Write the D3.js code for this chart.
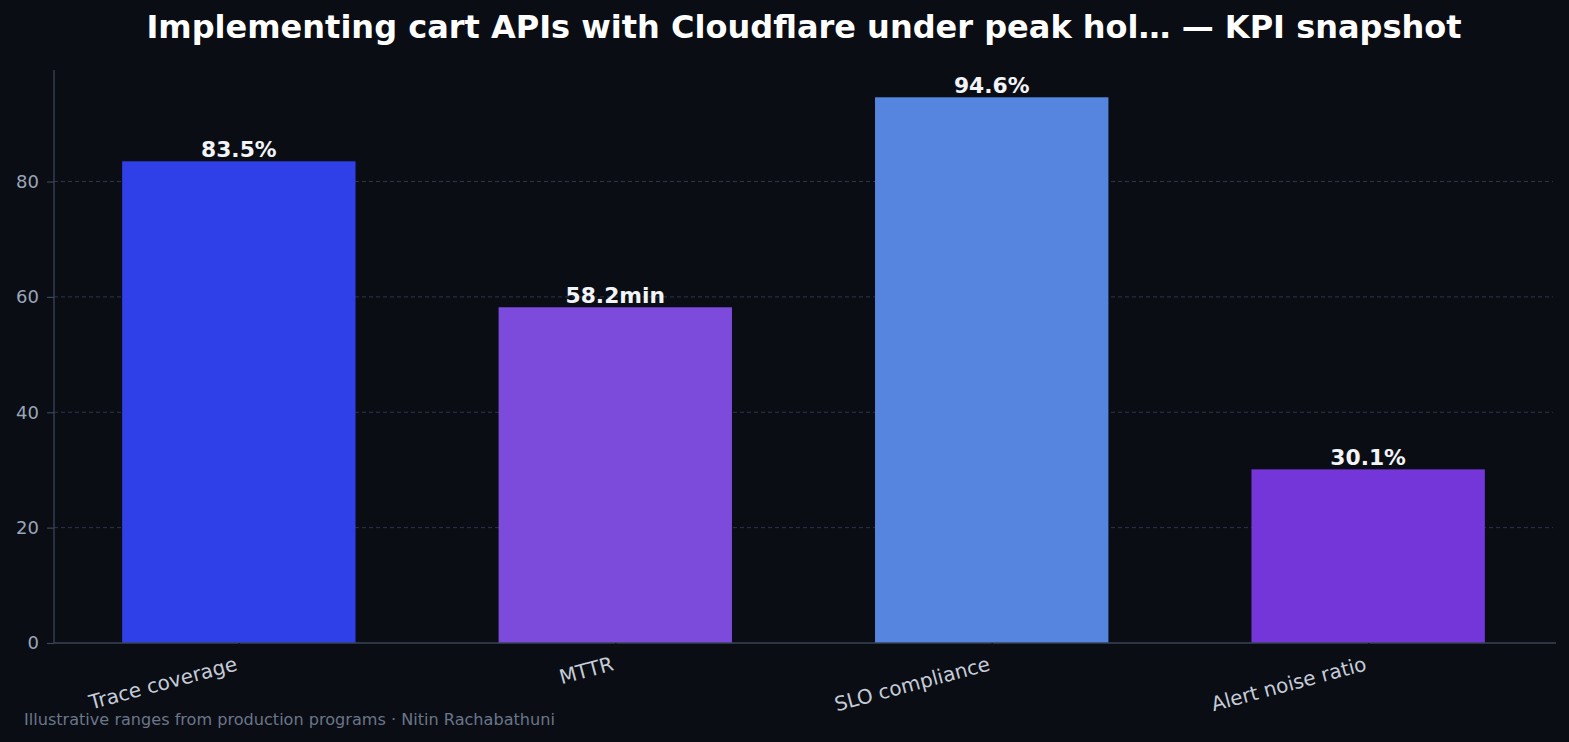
<!DOCTYPE html>
<html><head><meta charset="utf-8">
<script src="https://cdn.jsdelivr.net/npm/d3@7"></script>
<style>html,body{margin:0;padding:0;background:#0a0d14;}svg{display:block;}</style>
</head><body>
<svg id="chart" width="1569" height="742"></svg>
<script>
const categories = ["Trace coverage", "MTTR", "SLO compliance", "Alert noise ratio"];
const values = [83.5, 58.2, 94.6, 30.1];
const valueLabels = ["83.5%", "58.2min", "94.6%", "30.1%"];
const colors = ["#2f40e9", "#7d4bdb", "#5585de", "#7436d8"];
const yTicks = [0, 20, 40, 60, 80];
const titleText = "Implementing cart APIs with Cloudflare under peak hol\u2026 \u2014 KPI snapshot";
const footerText = "Illustrative ranges from production programs \u00b7 Nitin Rachabathuni";

const svg = d3.select("#chart");
const W = 1569, H = 742;
const m = {left: 54, right: 1553, top: 70, bottom: 643};
svg.append("rect").attr("width", W).attr("height", H).attr("fill", "#0a0d14");

const yMax = d3.max(values) * 1.05;
const y = d3.scaleLinear().domain([0, yMax]).range([m.bottom, m.top]);
const n = categories.length;
const pad = (n - 1 + 0.62) * 0.05;
const x = d3.scaleLinear().domain([-0.31 - pad, n - 1 + 0.31 + pad]).range([m.left, m.right]);
const bw = 0.62;

// grid
svg.append("g").selectAll("line").data(yTicks.filter(d => d > 0)).join("line")
  .attr("x1", m.left).attr("x2", m.right)
  .attr("y1", d => y(d)).attr("y2", d => y(d))
  .attr("stroke", "#2c364a").attr("stroke-width", 1).attr("stroke-dasharray", "4,3");

// bars
svg.append("g").selectAll("rect").data(values).join("rect")
  .attr("x", (d, i) => x(i - bw / 2))
  .attr("width", (d, i) => x(i + bw / 2) - x(i - bw / 2))
  .attr("y", d => y(d))
  .attr("height", d => y(0) - y(d))
  .attr("fill", (d, i) => colors[i]);

// value labels
svg.append("g").selectAll("text").data(values).join("text")
  .attr("x", (d, i) => x(i))
  .attr("y", d => y(d) - 4)
  .attr("text-anchor", "middle")
  .attr("font-family", "DejaVu Sans")
  .attr("font-weight", "bold")
  .attr("font-size", 21.8)
  .attr("fill", "#f2f4f8")
  .text((d, i) => valueLabels[i]);

// y axis
const yAxis = d3.axisLeft(y).tickValues(yTicks).tickSize(7).tickPadding(8).tickFormat(d3.format("d"));
const gy = svg.append("g").attr("transform", `translate(${m.left},0)`).call(yAxis);
gy.select(".domain").attr("stroke", "#3a4556").attr("stroke-width", 1.3).attr("d", `M0,${m.bottom}V${m.top}`);
gy.selectAll(".tick line").attr("stroke", "#3a4556").attr("stroke-width", 1.2);
gy.selectAll(".tick text").attr("fill", "#9aa6b8").attr("font-family", "DejaVu Sans").attr("font-size", 18);

// x axis
const xAxis = d3.axisBottom(x).tickValues(d3.range(n)).tickSize(6).tickPadding(4).tickFormat(i => categories[i]);
const gx = svg.append("g").attr("transform", `translate(0,${m.bottom})`).call(xAxis);
gx.select(".domain").attr("stroke", "#3a4556").attr("stroke-width", 1.3).attr("d", `M${m.left},0H${m.right + 3}`);
gx.selectAll(".tick line").attr("stroke", "#111").attr("stroke-width", 1.3);
gx.selectAll(".tick text")
  .attr("fill", "#c5ccd8").attr("font-family", "DejaVu Sans").attr("font-size", 20)
  .attr("text-anchor", "end").attr("dy", null)
  .attr("transform", "translate(-1,27) rotate(-15)")
  .attr("y", 0).attr("x", 0);

// title
svg.append("text").attr("x", 804).attr("y", 38).attr("text-anchor", "middle")
  .attr("font-family", "DejaVu Sans").attr("font-weight", "bold").attr("font-size", 32)
  .attr("fill", "#ffffff").text(titleText);

// footer
svg.append("text").attr("x", 24).attr("y", 725)
  .attr("font-family", "DejaVu Sans").attr("font-size", 16.1)
  .attr("fill", "#6b7689").text(footerText);
</script>
</body></html>
